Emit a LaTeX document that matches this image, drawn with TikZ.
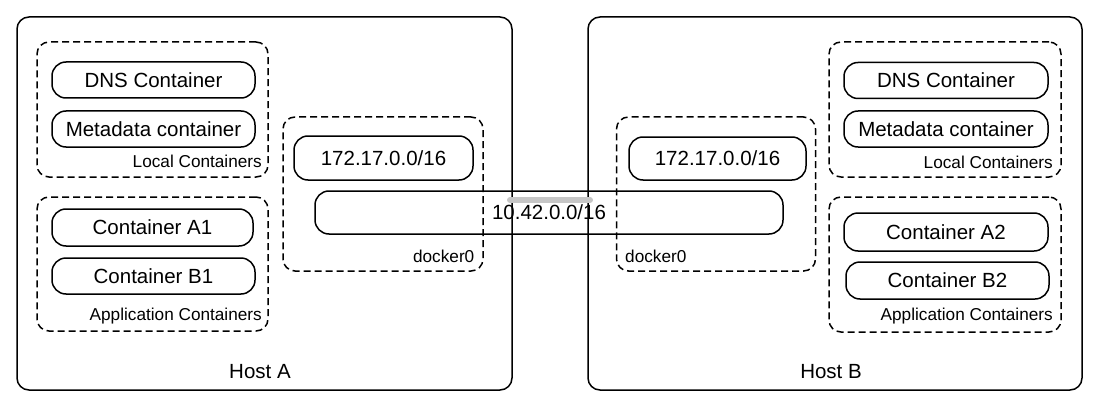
\documentclass[tikz,border=0pt]{standalone}
\usepackage{fontspec}
\setmainfont{Liberation Sans}
\begin{document}
\begin{tikzpicture}[x=1pt,y=-1pt,line cap=round,line join=round,
  host/.style={draw,line width=1.5pt,rounded corners=12pt},
  group/.style={draw,line width=1.5pt,line cap=butt,dash pattern=on 7pt off 4pt,rounded corners=12pt},
  box/.style={draw,line width=1.5pt,rounded corners=14pt,minimum height=36pt,font=\fontsize{20.5}{24}\selectfont},
  tag/.style={font=\fontsize{17.2}{20}\selectfont,inner sep=0pt},
  big/.style={font=\fontsize{20.5}{24}\selectfont,inner sep=0pt}]
  \useasboundingbox (0,0) rectangle (1099,409);
  \node[host,minimum width=495pt,minimum height=373pt] (hostA) at (264.5,203.5) {};
  \node[host,minimum width=494pt,minimum height=373pt] (hostB) at (835,203.5) {};
  \node[big] (hostAlbl) at (260,372) {Host A};
  \node[big] (hostBlbl) at (831,372) {Host B};
  \node[group,minimum width=231pt,minimum height=135pt] (localA) at (152.5,109.5) {};
  \node[group,minimum width=231pt,minimum height=134pt] (appA) at (152.5,264) {};
  \node[group,minimum width=200pt,minimum height=154pt] (dockA) at (383,194) {};
  \node[group,minimum width=199pt,minimum height=154pt] (dockB) at (716,194) {};
  \node[group,minimum width=232pt,minimum height=135pt] (localB) at (945,109.5) {};
  \node[group,minimum width=232pt,minimum height=135pt] (appB) at (945,264.5) {};
  \node[box,minimum width=203pt] (dnsA) at (153.5,80) {DNS Container};
  \node[box,minimum width=203pt] (metaA) at (153.5,129) {Metadata container};
  \node[box,minimum width=201pt,minimum height=37pt] (contA1) at (152.5,227.5) {Container A1};
  \node[box,minimum width=203pt] (contB1) at (153.5,276) {Container B1};
  \node[box,minimum width=179pt,minimum height=44pt] (ipA) at (383.5,158) {172.17.0.0/16};
  \node[box,minimum width=177pt,minimum height=43pt] (ipB) at (717.5,158.5) {172.17.0.0/16};
  \node[box,minimum width=468pt,minimum height=43pt] (net) at (549,212.5) {10.42.0.0/16};
  \node[box,minimum width=204pt] (dnsB) at (946,80.5) {DNS Container};
  \node[box,minimum width=204pt] (metaB) at (946,129) {Metadata container};
  \node[box,minimum width=204pt,minimum height=38pt] (contA2) at (946,232) {Container A2};
  \node[box,minimum width=203pt,minimum height=37pt] (contB2) at (947.5,280.5) {Container B2};
  \node[tag,anchor=east] (localAlbl) at (262,161.5) {Local Containers};
  \node[tag,anchor=east] (appAlbl) at (262,316) {Application Containers};
  \node[tag,anchor=east] (dockAlbl) at (474.5,256.5) {docker0};
  \node[tag,anchor=west] (dockBlbl) at (625,256.5) {docker0};
  \node[tag,anchor=east] (localBlbl) at (1053,162) {Local Containers};
  \node[tag,anchor=east] (appBlbl) at (1053,316) {Application Containers};
  \coordinate (linkA) at (510,200);
  \coordinate (linkB) at (590,200);
  \draw[gray!45,line width=6pt] (linkA) -- (linkB);
\end{tikzpicture}
\end{document}
